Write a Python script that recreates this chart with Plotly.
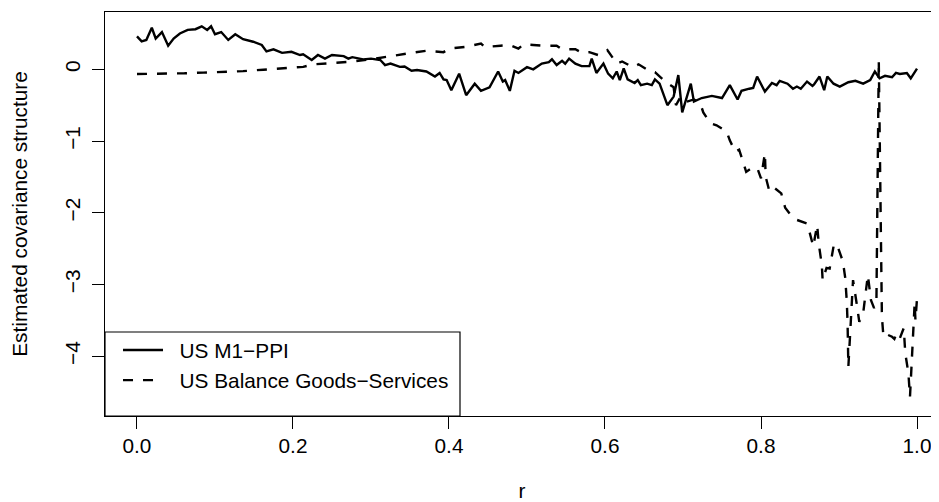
import plotly.graph_objects as go

# --- data ---
r_m1 = [0.000, 0.006, 0.012, 0.019, 0.024, 0.032, 0.040, 0.047, 0.055, 0.065,
        0.075, 0.083, 0.090, 0.095, 0.100, 0.108, 0.117, 0.126, 0.136, 0.149,
        0.160, 0.166, 0.175, 0.186, 0.198, 0.209, 0.213, 0.224, 0.232, 0.241,
        0.250, 0.265, 0.271, 0.276, 0.290, 0.300, 0.312, 0.318, 0.325, 0.337,
        0.343, 0.352, 0.359, 0.371, 0.382, 0.388, 0.393, 0.397, 0.403, 0.413,
        0.422, 0.433, 0.441, 0.452, 0.463, 0.469, 0.472, 0.478, 0.484, 0.489,
        0.500, 0.508, 0.519, 0.528, 0.532, 0.538, 0.545, 0.549, 0.554, 0.562,
        0.570, 0.580, 0.583, 0.589, 0.598, 0.604, 0.610, 0.615, 0.619, 0.624,
        0.629, 0.638, 0.642, 0.646, 0.654, 0.660, 0.664, 0.670, 0.680, 0.688,
        0.694, 0.699, 0.710, 0.714, 0.724, 0.737, 0.750, 0.760, 0.770, 0.775,
        0.785, 0.790, 0.795, 0.805, 0.814, 0.820, 0.824, 0.834, 0.841, 0.846,
        0.851, 0.859, 0.866, 0.868, 0.875, 0.881, 0.885, 0.893, 0.901, 0.912,
        0.921, 0.931, 0.940, 0.946, 0.952, 0.959, 0.968, 0.973, 0.978, 0.987,
        0.992, 0.997, 1.000]
v_m1 = [0.46, 0.39, 0.41, 0.58, 0.43, 0.52, 0.33, 0.43, 0.50, 0.55,
        0.56, 0.60, 0.55, 0.60, 0.49, 0.52, 0.41, 0.49, 0.42, 0.385,
        0.34, 0.25, 0.28, 0.23, 0.245, 0.20, 0.21, 0.13, 0.20, 0.15,
        0.20, 0.185, 0.15, 0.17, 0.14, 0.15, 0.13, 0.06, 0.08, 0.035,
        0.04, -0.02, -0.01, -0.03, -0.10, -0.05, -0.14, -0.15, -0.29, -0.06,
        -0.36, -0.20, -0.30, -0.25, -0.03, -0.17, -0.15, -0.30, -0.02, -0.05,
        0.03, 0.00, 0.08, 0.10, 0.14, 0.06, 0.12, 0.08, 0.15, 0.08,
        0.045, 0.045, 0.15, -0.05, 0.08, -0.06, -0.125, -0.03, -0.15, 0.015,
        -0.14, -0.19, -0.15, -0.22, -0.20, -0.22, -0.14, -0.20, -0.50, -0.38,
        -0.08, -0.60, -0.20, -0.45, -0.40, -0.37, -0.40, -0.22, -0.42, -0.30,
        -0.27, -0.26, -0.10, -0.31, -0.19, -0.22, -0.16, -0.20, -0.27, -0.24,
        -0.27, -0.17, -0.23, -0.21, -0.10, -0.29, -0.10, -0.20, -0.24, -0.18,
        -0.16, -0.20, -0.15, -0.03, -0.125, -0.09, -0.11, -0.05, -0.065, -0.05,
        -0.125, -0.03, 0.01]

r_bal = [0.000, 0.027, 0.061, 0.085, 0.106, 0.136, 0.162, 0.188, 0.213, 0.226,
         0.243, 0.273, 0.300, 0.324, 0.346, 0.371, 0.393, 0.401, 0.422, 0.441,
         0.446, 0.466, 0.478, 0.489, 0.496, 0.508, 0.520, 0.538, 0.545, 0.562,
         0.571, 0.580, 0.591, 0.603, 0.608, 0.615, 0.622, 0.636, 0.643, 0.658,
         0.664, 0.677, 0.688, 0.691, 0.697, 0.705, 0.714, 0.722, 0.726, 0.735,
         0.743, 0.756, 0.760, 0.765, 0.767, 0.772, 0.776, 0.781, 0.790, 0.796,
         0.800, 0.805, 0.806, 0.811, 0.818, 0.826, 0.831, 0.838, 0.846, 0.859,
         0.862, 0.867, 0.872, 0.874, 0.878, 0.879, 0.884, 0.888, 0.893, 0.897,
         0.905, 0.908, 0.910, 0.911, 0.912, 0.916, 0.918, 0.922, 0.926, 0.931,
         0.935, 0.937, 0.941, 0.945, 0.948, 0.951, 0.955, 0.957, 0.962, 0.968,
         0.971, 0.974, 0.978, 0.983, 0.985, 0.989, 0.991, 0.995, 0.997, 0.998,
         1.000]
v_bal = [-0.065, -0.065, -0.055, -0.045, -0.04, -0.025, -0.005, 0.015, 0.035, 0.07,
         0.08, 0.105, 0.14, 0.185, 0.22, 0.26, 0.24, 0.29, 0.315, 0.36,
         0.31, 0.33, 0.34, 0.29, 0.35, 0.34, 0.33, 0.33, 0.28, 0.28,
         0.23, 0.24, 0.20, 0.27, 0.185, 0.08, 0.11, 0.03, 0.07, -0.03,
         -0.04, -0.17, -0.25, -0.50, -0.38, -0.45, -0.42, -0.47, -0.60, -0.75,
         -0.78, -0.87, -0.99, -1.10, -1.15, -1.12, -1.26, -1.43, -1.36, -1.40,
         -1.52, -1.17, -1.50, -1.71, -1.66, -1.73, -1.93, -2.03, -2.10, -2.15,
         -2.26, -2.47, -2.17, -2.43, -2.73, -2.94, -2.77, -2.78, -2.47, -2.43,
         -2.68, -2.91, -3.24, -3.54, -4.15, -3.22, -2.94, -3.22, -3.52, -3.40,
         -3.08, -2.87, -3.22, -3.33, -3.22, 0.13, -3.45, -3.73, -3.70, -3.73,
         -3.76, -3.68, -3.75, -3.61, -3.96, -4.24, -4.57, -3.78, -3.26, -3.50,
         -3.20]

series_names = ["US M1\u2212PPI", "US Balance Goods\u2212Services"]
y_ticks = [-4, -3, -2, -1, 0]
y_tick_labels = ["\u22124", "\u22123", "\u22122", "\u22121", "0"]
x_ticks = [0.0, 0.2, 0.4, 0.6, 0.8, 1.0]
x_tick_labels = ["0.0", "0.2", "0.4", "0.6", "0.8", "1.0"]

FONT = "Liberation Sans, Arial, sans-serif"
FS = 20.8
PAD = "\u00a0\u00a0"  # spacing between legend sample and text

fig = go.Figure()
fig.add_trace(go.Scatter(x=r_m1, y=v_m1, mode="lines", name=PAD + series_names[0],
                         line=dict(color="black", width=2.4)))
fig.add_trace(go.Scatter(x=r_bal, y=v_bal, mode="lines", name=PAD + series_names[1],
                         line=dict(color="black", width=2.4, dash="10px,10px")))

# page has an 8px body margin; size the figure to fill the 939x502 window
W, H = 931, 494
L, T, B = 97, 4, 86
plot_h = H - T - B
plot_w = W - L

# legend box (bottom-left, like R's legend("bottomleft"))
box_right = 355 / plot_w
box_top = 84 / plot_h
fig.add_shape(type="rect", xref="paper", yref="paper", x0=0, x1=box_right,
              y0=0, y1=box_top, line=dict(color="black", width=1.2),
              fillcolor="white", layer="above")

fig.update_layout(
    width=W, height=H,
    margin=dict(l=L, r=0, t=T, b=B, pad=0),
    paper_bgcolor="white", plot_bgcolor="white",
    font=dict(family=FONT, size=FS, color="black"),
    showlegend=True,
    legend=dict(x=0.0156, y=0.037, xanchor="left", yanchor="bottom",
                bgcolor="rgba(0,0,0,0)", borderwidth=0,
                font=dict(family=FONT, size=FS, color="black"),
                itemwidth=40, tracegroupgap=0),
    xaxis=dict(range=[-0.041, 1.0282], tickvals=x_ticks, ticktext=x_tick_labels,
               showgrid=False, zeroline=False, showline=True, mirror=True,
               linecolor="black", linewidth=1.2,
               ticks="outside", ticklen=12, tickwidth=1.2, tickcolor="black",
               ticklabelstandoff=-1,
               title=dict(text="r", font=dict(size=FS), standoff=30)),
    yaxis=dict(range=[-4.835, 0.80], tickvals=y_ticks, ticktext=y_tick_labels,
               tickangle=-90,
               showgrid=False, zeroline=False, showline=True, mirror=False,
               linecolor="black", linewidth=1.2,
               ticks="outside", ticklen=12, tickwidth=1.2, tickcolor="black",
               ticklabelstandoff=4,
               title=dict(text="Estimated covariance structure", font=dict(size=FS),
                          standoff=27)),
)

fig.write_html("out.html")
